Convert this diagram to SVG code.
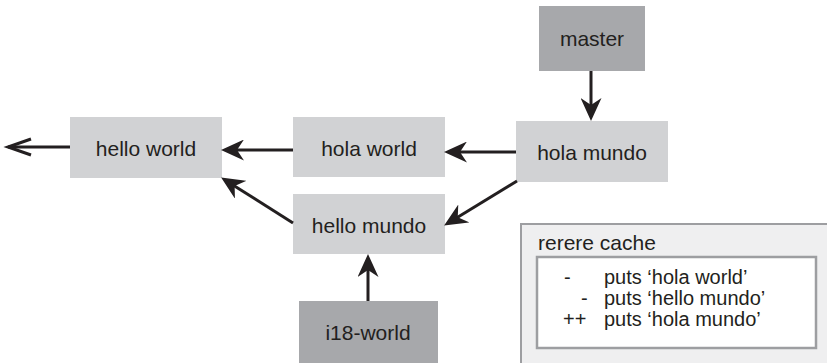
<svg xmlns="http://www.w3.org/2000/svg" width="827" height="363" viewBox="0 0 827 363">
<style>
.n rect{stroke:none}
.lt{fill:#d1d2d4}
.dk{fill:#a7a8ab}
text{font-family:"Liberation Sans",Arial,sans-serif;font-size:21px;fill:#231f20}
.c{text-anchor:middle}
.s{font-size:20px}
.ln{stroke:#231f20;stroke-width:3;fill:none}
</style>
<defs>
<marker id="ah" viewBox="0 0 23 21" refX="10" refY="10.5" markerWidth="23" markerHeight="21" markerUnits="userSpaceOnUse" orient="auto">
<path d="M23,10.5 L0,0 L7,10.5 L0,21 Z" fill="#231f20"/>
</marker>
</defs>
<rect width="827" height="363" fill="#fff"/>
<g id="master" class="n"><rect class="dk" x="539" y="6" width="106" height="65"/><text class="c" x="592" y="46">master</text></g>
<g id="hola-mundo" class="n"><rect class="lt" x="516" y="121" width="152" height="61"/><text class="c" x="592" y="160">hola mundo</text></g>
<g id="hola-world" class="n"><rect class="lt" x="293" y="117" width="152" height="60"/><text class="c" x="369" y="156">hola world</text></g>
<g id="hello-world" class="n"><rect class="lt" x="70" y="117" width="152" height="61"/><text class="c" x="146" y="156">hello world</text></g>
<g id="hello-mundo" class="n"><rect class="lt" x="293" y="194" width="152" height="60"/><text class="c" x="369" y="233">hello mundo</text></g>
<g id="i18-world" class="n"><rect class="dk" x="299" y="301" width="139" height="66"/><text class="c" x="368" y="340">i18-world</text></g>
<g id="rerere-cache">
<rect x="521" y="224" width="310" height="145" fill="#efeff0" stroke="#9d9ea1" stroke-width="2"/>
<text x="538" y="250">rerere cache</text>
<rect x="537" y="257" width="279" height="91" fill="#fff" stroke="#9d9ea1" stroke-width="2.5"/>
<text class="s" x="564" y="284">-</text><text class="s" x="604" y="284">puts ‘hola world’</text>
<text class="s" x="581" y="305">-</text><text class="s" x="604" y="305">puts ‘hello mundo’</text>
<text class="s" x="563" y="326">++</text><text class="s" x="604" y="326">puts ‘hola mundo’</text>
</g>
<g id="connectors">
<path class="ln" d="M591,71 V108" marker-end="url(#ah)"/>
<path class="ln" d="M516,152 H457" marker-end="url(#ah)"/>
<path class="ln" d="M293,150 H234" marker-end="url(#ah)"/>
<path class="ln" d="M517,181 L455.2,218.7" marker-end="url(#ah)"/>
<path class="ln" d="M293,223 L232.1,184.4" marker-end="url(#ah)"/>
<path class="ln" d="M368,301 V267" marker-end="url(#ah)"/>
<path class="ln" d="M70,147 H8"/>
<path class="ln" d="M31,139 L8,147 L31,155"/>
</g>
</svg>
